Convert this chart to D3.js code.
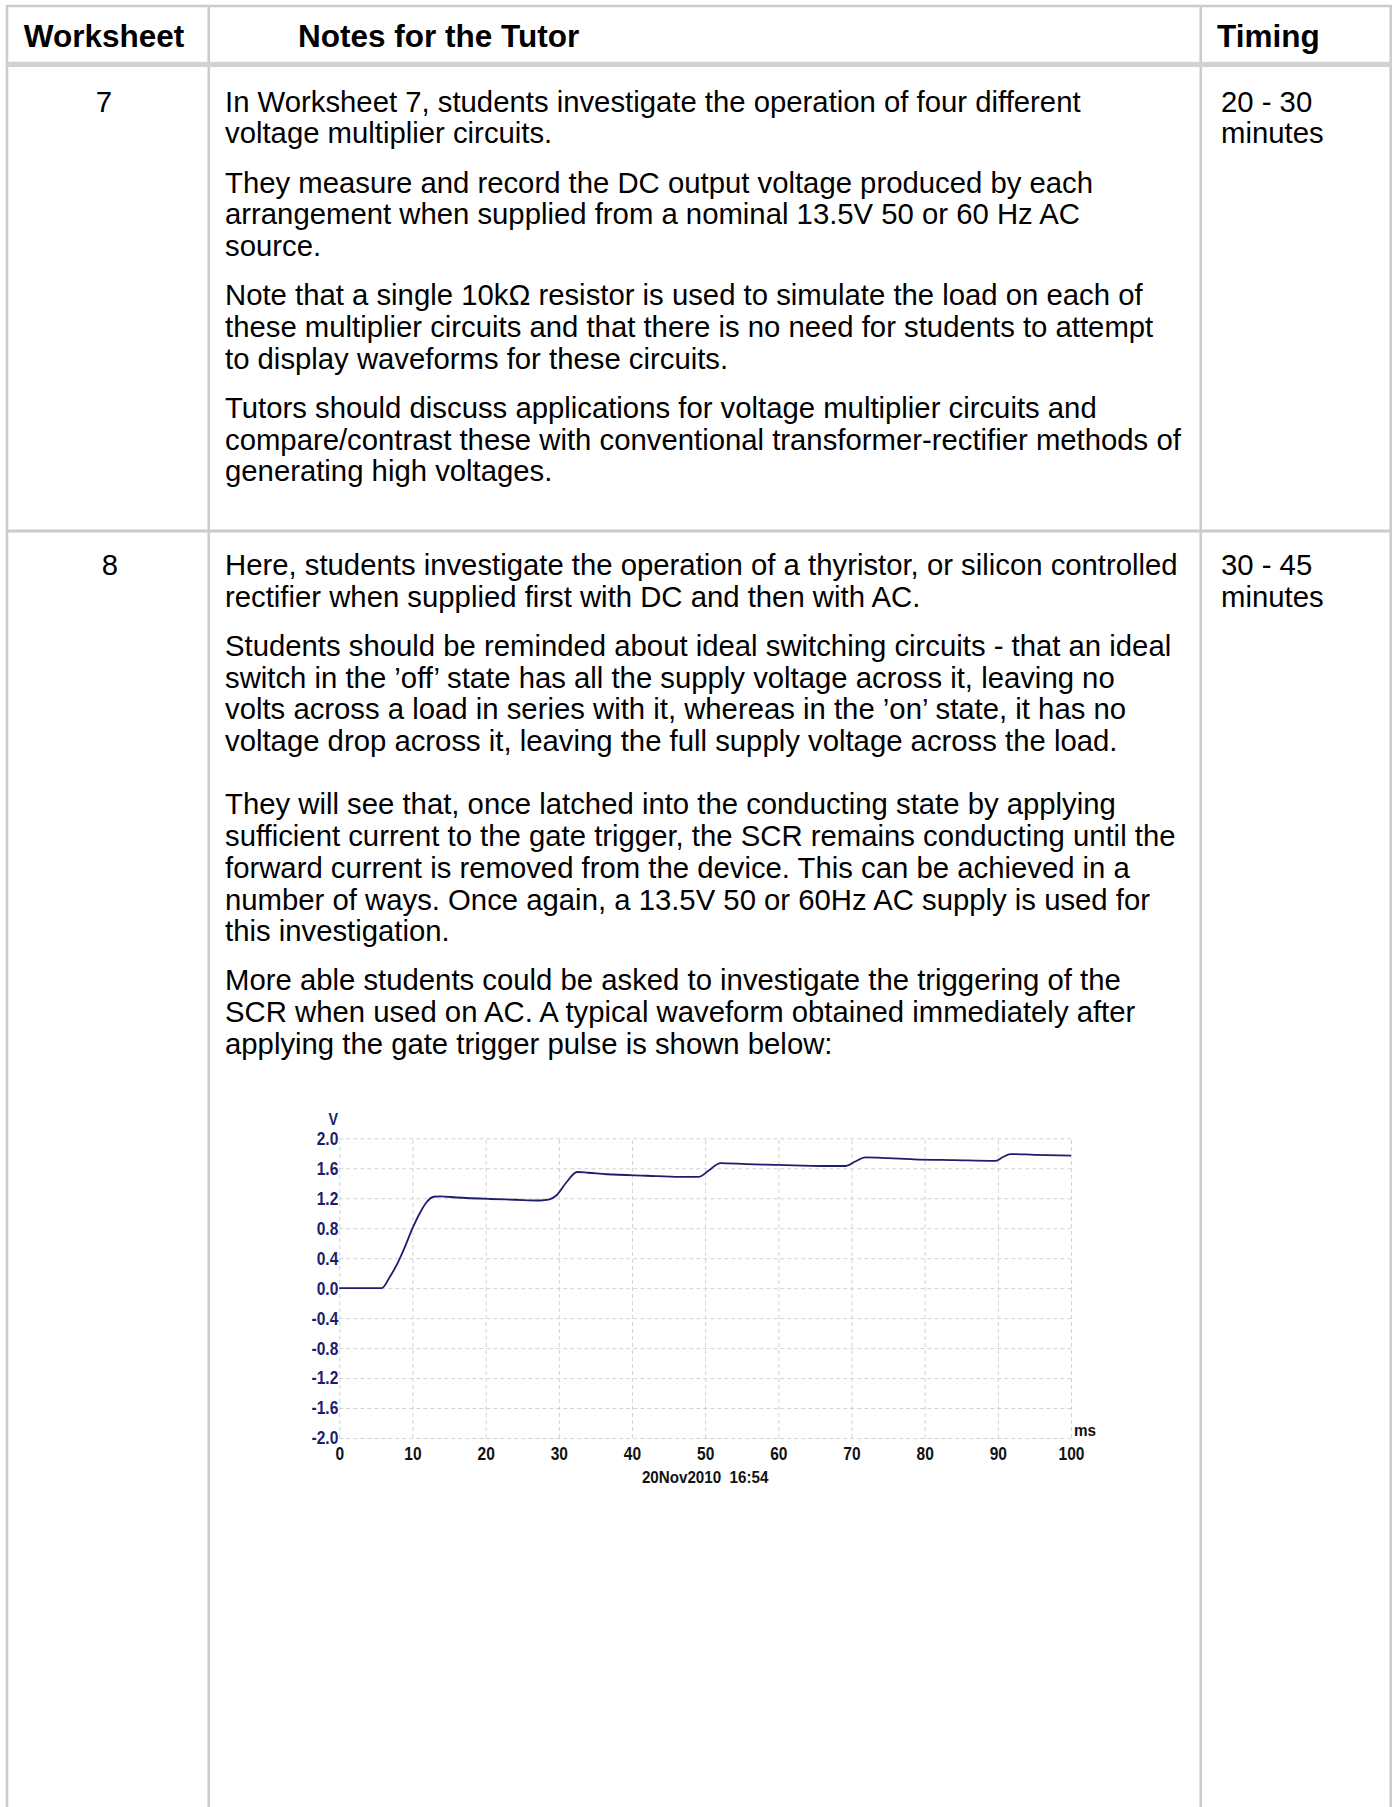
<!DOCTYPE html>
<html><head><meta charset="utf-8">
<script src="https://cdn.jsdelivr.net/npm/d3@7"></script>
<style>
body{margin:0;background:#fff}
svg{display:block}
</style>
</head><body>
<svg id="c" width="1394" height="1807"></svg>
<script>
// ---------- table content ----------
const headers = ["Worksheet", "Notes for the Tutor", "Timing"];
const worksheetNumbers = ["7", "8"];
const timings = [["20 - 30", "minutes"], ["30 - 45", "minutes"]];
const row7Paragraphs = [
  ["In Worksheet 7, students investigate the operation of four different",
   "voltage multiplier circuits."],
  ["They measure and record the DC output voltage produced by each",
   "arrangement when supplied from a nominal 13.5V 50 or 60 Hz AC",
   "source."],
  ["Note that a single 10kΩ resistor is used to simulate the load on each of",
   "these multiplier circuits and that there is no need for students to attempt",
   "to display waveforms for these circuits."],
  ["Tutors should discuss applications for voltage multiplier circuits and",
   "compare/contrast these with conventional transformer-rectifier methods of",
   "generating high voltages."]
];
const row8Paragraphs = [
  ["Here, students investigate the operation of a thyristor, or silicon controlled",
   "rectifier when supplied first with DC and then with AC."],
  ["Students should be reminded about ideal switching circuits - that an ideal",
   "switch in the ’off’ state has all the supply voltage across it, leaving no",
   "volts across a load in series with it, whereas in the ’on’ state, it has no",
   "voltage drop across it, leaving the full supply voltage across the load."],
  ["They will see that, once latched into the conducting state by applying",
   "sufficient current to the gate trigger, the SCR remains conducting until the",
   "forward current is removed from the device. This can be achieved in a",
   "number of ways. Once again, a 13.5V 50 or 60Hz AC supply is used for",
   "this investigation."],
  ["More able students could be asked to investigate the triggering of the",
   "SCR when used on AC. A typical waveform obtained immediately after",
   "applying the gate trigger pulse is shown below:"]
];

// ---------- chart data ----------
const timeMs  = [0, 5.8, 6.9, 8.0, 8.75, 10.1, 11.0, 11.95, 12.9, 13.8, 16, 20.6, 24, 27.5, 28.6, 29.7, 31.1, 32.5, 34, 36.6, 42, 46.6, 49.1, 50.5, 52.1, 55.7, 60, 66.2, 69.2, 70.5, 71.9, 75, 78.5, 84, 89.7, 90.7, 91.7, 95, 100];
const voltage = [0, 0, 0.15, 0.34, 0.50, 0.82, 1.00, 1.15, 1.22, 1.225, 1.21, 1.19, 1.18, 1.17, 1.18, 1.24, 1.42, 1.55, 1.54, 1.52, 1.50, 1.485, 1.485, 1.57, 1.67, 1.655, 1.645, 1.63, 1.63, 1.69, 1.745, 1.735, 1.72, 1.71, 1.70, 1.75, 1.79, 1.78, 1.77];
const xTicks = [0, 10, 20, 30, 40, 50, 60, 70, 80, 90, 100];
const yTicks = [-2.0, -1.6, -1.2, -0.8, -0.4, 0.0, 0.4, 0.8, 1.2, 1.6, 2.0];
const yUnit = "V";
const xUnit = "ms";
const timestamp = "20Nov2010\u00a0\u00a016:54";

// ---------- drawing ----------
const svg = d3.select("#c");
const FONT = "'Liberation Sans', Arial, sans-serif";
const GRAY = "#cbcbcb";

// table lines
const colX = [7, 208.7, 1200.7, 1390.7];
svg.selectAll("line.col").data(colX).join("line")
  .attr("x1", d => d).attr("x2", d => d).attr("y1", 5).attr("y2", 1807)
  .attr("stroke", GRAY).attr("stroke-width", 2.5);
svg.append("line").attr("x1", 5.8).attr("x2", 1392).attr("y1", 6).attr("y2", 6)
  .attr("stroke", GRAY).attr("stroke-width", 2.5);
svg.append("rect").attr("x", 5.8).attr("y", 61.8).attr("width", 1386.2).attr("height", 5.2).attr("fill", "#d2d2d2");
svg.append("rect").attr("x", 5.8).attr("y", 529.5).attr("width", 1386.2).attr("height", 3).attr("fill", GRAY);

// header
const headerPos = [{x: 104, a: "middle"}, {x: 298, a: "start"}, {x: 1217, a: "start"}];
svg.selectAll("text.hdr").data(headers).join("text")
  .attr("class", "hdr")
  .attr("x", (d, i) => headerPos[i].x).attr("y", 46.7)
  .attr("text-anchor", (d, i) => headerPos[i].a)
  .attr("font-family", FONT).attr("font-weight", "bold").attr("font-size", 31.5)
  .attr("fill", "#000").text(d => d);

// body text
const L = 31.7, P = 17.5;
function layoutParagraphs(paras, y0, gaps) {
  const out = [];
  let y = y0;
  paras.forEach((p, pi) => {
    p.forEach((line) => {
      out.push({text: line, y});
      y += L;
    });
    y += gaps[pi] || 0;
  });
  return out;
}
const bodyFont = 29.3;
const row7Lines = layoutParagraphs(row7Paragraphs, 111.7, [P, P, P]);
const row8Lines = layoutParagraphs(row8Paragraphs, 575, [P, L, P]);
svg.selectAll("text.body").data(row7Lines.concat(row8Lines)).join("text")
  .attr("class", "body")
  .attr("x", 225).attr("y", d => d.y)
  .attr("font-family", FONT).attr("font-size", bodyFont).attr("fill", "#000")
  .text(d => d.text);

const rowBase = [111.7, 575];
const numX = [104, 110];
svg.selectAll("text.num").data(worksheetNumbers).join("text")
  .attr("x", (d, i) => numX[i]).attr("y", (d, i) => rowBase[i])
  .attr("text-anchor", "middle")
  .attr("font-family", FONT).attr("font-size", bodyFont).attr("fill", "#000")
  .text(d => d);
timings.forEach((t, i) => {
  svg.selectAll(null).data(t).join("text")
    .attr("x", 1221).attr("y", (d, j) => rowBase[i] + j * L)
    .attr("font-family", FONT).attr("font-size", bodyFont).attr("fill", "#000")
    .text(d => d);
});

// ---------- chart ----------
const plot = {left: 339.3, right: 1071, top: 1138.3, bottom: 1438};
const x = d3.scaleLinear().domain([0, 100]).range([plot.left, plot.right]);
const y = d3.scaleLinear().domain([-2, 2]).range([plot.bottom, plot.top]);
const NAVY = "#1d1d6e";
const chart = svg.append("g");
const LBL = 18.5, SQ = 0.84;

// grid
chart.append("g").attr("transform", `translate(0,${plot.bottom})`)
  .call(d3.axisBottom(x).tickValues(xTicks).tickSize(-(plot.bottom - plot.top)).tickFormat(""))
  .call(g => g.select(".domain").remove())
  .call(g => g.selectAll("line").attr("stroke", "#d3d3d3").attr("stroke-dasharray", "4,3").attr("stroke-width", 1));
chart.append("g").attr("transform", `translate(${plot.left},0)`)
  .call(d3.axisLeft(y).tickValues(yTicks).tickSize(-(plot.right - plot.left)).tickFormat(""))
  .call(g => g.select(".domain").remove())
  .call(g => g.selectAll("line").attr("stroke", "#d3d3d3").attr("stroke-dasharray", "4,3").attr("stroke-width", 1));

// axis labels (condensed bold look)
chart.append("g").attr("transform", `translate(${plot.left - 1},0)`)
  .call(d3.axisLeft(y).tickValues(yTicks).tickSize(0).tickPadding(0).tickFormat(d => d.toFixed(1)))
  .call(g => g.select(".domain").remove())
  .call(g => g.selectAll("text").attr("fill", NAVY).attr("font-family", FONT)
    .attr("font-weight", "bold").attr("font-size", LBL).attr("transform", `scale(${SQ},1)`));
chart.append("g").attr("transform", `translate(0,${plot.bottom})`)
  .call(d3.axisBottom(x).tickValues(xTicks).tickSize(0).tickPadding(9).tickFormat(d3.format("d")))
  .call(g => g.select(".domain").remove())
  .call(g => g.selectAll("text").attr("fill", "#111").attr("font-family", FONT)
    .attr("font-weight", "bold").attr("font-size", LBL).attr("transform", `scale(${SQ},1)`));

chart.append("text").attr("transform", `translate(${plot.left - 6},1125) scale(${SQ},1)`)
  .attr("text-anchor", "middle")
  .attr("font-family", FONT).attr("font-weight", "bold").attr("font-size", 17).attr("fill", NAVY).text(yUnit);
chart.append("text").attr("transform", `translate(1074,1436) scale(0.9,1)`)
  .attr("font-family", FONT).attr("font-weight", "bold").attr("font-size", 17).attr("fill", "#111").text(xUnit);
chart.append("text").attr("transform", `translate(${(plot.left + plot.right) / 2},1483) scale(0.92,1)`)
  .attr("text-anchor", "middle")
  .attr("font-family", FONT).attr("font-weight", "bold").attr("font-size", 16.5).attr("fill", "#111").text(timestamp);

// trace
const pts = timeMs.map((t, i) => [t, voltage[i]]);
chart.append("path").datum(pts)
  .attr("fill", "none").attr("stroke", NAVY).attr("stroke-width", 1.8)
  .attr("stroke-linejoin", "round")
  .attr("d", d3.line().x(d => x(d[0])).y(d => y(d[1])).curve(d3.curveMonotoneX));
</script>
</body></html>
